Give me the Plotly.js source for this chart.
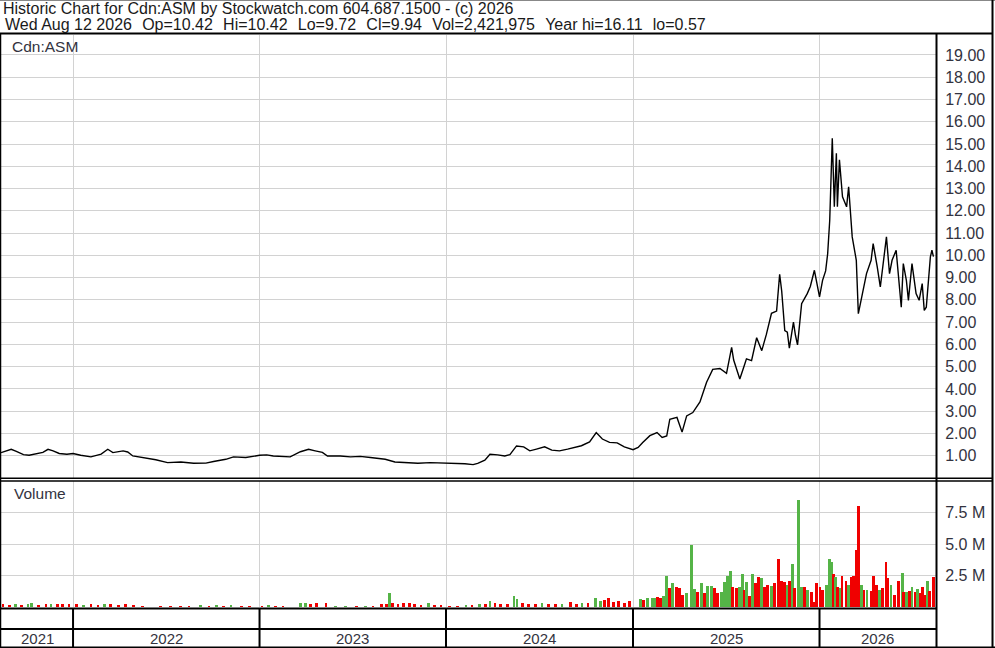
<!DOCTYPE html>
<html><head><meta charset="utf-8">
<script src="https://cdn.plot.ly/plotly-3.0.1.min.js"></script>
<style>html,body{margin:0;padding:0;background:#fff;overflow:hidden}#chart{width:995px;height:648px}</style>
</head><body><div id="chart"></div>
<script>
// ---------- text ----------
const headerLine1 = 'Historic Chart for Cdn:ASM by Stockwatch.com 604.687.1500 - (c) 2026';
const headerFields2 = ['Wed Aug 12 2026', 'Op=10.42', 'Hi=10.42', 'Lo=9.72', 'Cl=9.94', 'Vol=2,421,975', 'Year hi=16.11', 'lo=0.57'];
const symbolLabel = 'Cdn:ASM';
const volumeLabel = 'Volume';
const yearLabels = ['2021','2022','2023','2024','2025','2026'];
const dateRange = ['2021-08-13','2026-08-17'];
const priceTicks = [1,2,3,4,5,6,7,8,9,10,11,12,13,14,15,16,17,18,19];
const volumeTicks = [2500000,5000000,7500000];
const volumeTickText = ['2.5 M','5.0 M','7.5 M'];

// ---------- price ----------
const priceDates = [
'2021-08-13','2021-08-23','2021-09-02','2021-09-12','2021-09-26','2021-10-07','2021-10-21','2021-11-03','2021-11-13','2021-11-23','2021-12-05','2021-12-20',
'2022-01-01','2022-01-16','2022-02-05','2022-02-25','2022-03-10','2022-03-20','2022-04-09','2022-04-18','2022-04-28','2022-05-20','2022-06-12','2022-07-05','2022-07-31','2022-08-25','2022-09-18','2022-10-03','2022-10-27','2022-11-11','2022-12-05',
'2023-01-01','2023-01-15','2023-01-28','2023-02-17','2023-03-02','2023-03-22','2023-04-07','2023-04-20','2023-05-04','2023-05-14','2023-06-08','2023-06-28','2023-07-17','2023-08-06','2023-09-04','2023-09-23','2023-10-13','2023-11-07','2023-12-01','2023-12-20',
'2024-01-01','2024-01-19','2024-02-07','2024-02-23','2024-03-03','2024-03-17','2024-03-27','2024-04-11','2024-04-25','2024-05-05','2024-05-18','2024-06-01','2024-06-13','2024-06-26','2024-07-12','2024-07-26','2024-08-10','2024-08-26','2024-09-08','2024-09-22','2024-10-08','2024-10-21','2024-11-02','2024-11-16','2024-12-01','2024-12-15',
'2025-01-01','2025-01-11','2025-01-20','2025-02-03','2025-02-17','2025-02-27','2025-03-08','2025-03-14','2025-03-28','2025-04-07','2025-04-16','2025-04-28','2025-05-12','2025-05-25','2025-06-06','2025-06-20','2025-07-03','2025-07-13','2025-07-17','2025-07-23','2025-07-29','2025-08-06','2025-08-11','2025-08-21','2025-08-31','2025-09-10','2025-09-19','2025-09-29','2025-10-09','2025-10-15','2025-10-19','2025-10-25','2025-10-30','2025-11-03','2025-11-11','2025-11-15','2025-11-19','2025-11-27','2025-12-08','2025-12-14','2025-12-22',
'2026-01-01','2026-01-07','2026-01-13','2026-01-17','2026-01-21','2026-01-24','2026-01-26','2026-01-30','2026-02-03','2026-02-05','2026-02-09','2026-02-15','2026-02-23','2026-02-27','2026-03-03','2026-03-06','2026-03-14','2026-03-18','2026-03-26','2026-04-03','2026-04-12','2026-04-16','2026-04-24','2026-04-30','2026-05-08','2026-05-12','2026-05-18','2026-05-23','2026-05-31','2026-06-06','2026-06-10','2026-06-14','2026-06-20','2026-06-24','2026-07-01','2026-07-09','2026-07-15','2026-07-21','2026-07-25','2026-07-29','2026-08-02','2026-08-06','2026-08-09','2026-08-12'
];
const priceClose = [
1.14,1.22,1.29,1.20,1.05,1.02,1.10,1.15,1.29,1.22,1.10,1.07,
1.10,1.02,0.95,1.07,1.29,1.14,1.22,1.17,0.99,0.92,0.82,0.69,0.72,0.66,0.67,0.74,0.84,0.95,0.92,
1.02,1.04,0.99,0.96,0.95,1.18,1.29,1.22,1.15,0.99,0.99,0.95,0.97,0.92,0.84,0.72,0.69,0.66,0.69,0.68,
0.69,0.66,0.64,0.60,0.66,0.80,1.07,1.04,0.99,1.05,1.44,1.40,1.22,1.30,1.40,1.25,1.22,1.30,1.37,1.45,1.62,2.04,1.75,1.60,1.58,1.40,
1.27,1.37,1.59,1.90,2.04,1.82,1.89,2.64,2.72,2.06,2.79,2.94,3.42,4.30,4.88,4.92,4.70,5.87,5.30,4.92,4.45,5.00,5.35,5.27,6.30,5.72,6.45,7.40,7.50,9.15,8.40,6.62,6.55,5.83,7.00,6.40,5.98,7.83,8.28,8.60,9.33,
8.13,8.88,9.30,10.08,11.58,13.46,15.26,12.18,14.59,12.18,14.29,12.63,12.18,13.08,11.73,10.83,9.78,7.38,8.28,9.18,9.78,10.53,9.48,8.58,10.08,10.83,9.18,9.78,10.23,8.58,7.67,9.63,8.88,7.98,9.63,8.28,7.98,8.73,7.53,7.67,8.88,9.93,10.23,9.94
];

// ---------- volume (millions) ----------
const volumeDates = [
'2021-08-17','2021-08-29','2021-09-10','2021-09-22','2021-10-05','2021-10-11','2021-10-26','2021-11-09','2021-11-19','2021-12-01','2021-12-12','2021-12-24',
'2022-01-07','2022-01-21','2022-02-05','2022-02-19','2022-03-04','2022-03-16','2022-03-31','2022-04-14','2022-04-29','2022-05-17','2022-06-21','2022-07-11','2022-07-31','2022-08-16','2022-09-08','2022-09-24','2022-10-08','2022-10-22','2022-11-06','2022-11-26','2022-12-12',
'2023-01-06','2023-01-18','2023-02-02','2023-02-16','2023-03-22','2023-04-01','2023-04-11','2023-04-23','2023-05-11','2023-05-30','2023-06-19','2023-07-09','2023-07-28','2023-08-11','2023-08-27','2023-09-06','2023-09-12','2023-09-19','2023-09-29','2023-10-09','2023-10-21','2023-10-31','2023-11-13','2023-11-27','2023-12-09','2023-12-22',
'2024-01-08','2024-01-24','2024-02-09','2024-02-21','2024-03-07','2024-03-19','2024-03-27','2024-04-06','2024-04-16','2024-04-30','2024-05-13','2024-05-19','2024-05-29','2024-06-10','2024-06-24','2024-07-07','2024-07-19','2024-08-02','2024-08-15','2024-08-31','2024-09-12','2024-09-23','2024-10-05','2024-10-19','2024-10-29','2024-11-06','2024-11-14','2024-11-24','2024-12-03','2024-12-15','2024-12-25',
'2025-01-15','2025-01-22','2025-01-30','2025-02-07','2025-02-12','2025-02-18','2025-02-24','2025-03-02','2025-03-08','2025-03-14','2025-03-20','2025-03-27','2025-04-02','2025-04-08','2025-04-16','2025-04-26','2025-05-02','2025-05-07','2025-05-15','2025-05-21','2025-05-27','2025-06-04','2025-06-10','2025-06-15','2025-06-23','2025-06-29','2025-07-05','2025-07-11','2025-07-15','2025-07-23','2025-07-29','2025-08-03','2025-08-07','2025-08-11','2025-08-17','2025-08-23','2025-08-29','2025-09-03','2025-09-09','2025-09-15','2025-09-21','2025-09-29','2025-10-05','2025-10-13','2025-10-18','2025-10-24','2025-10-30','2025-11-03','2025-11-09','2025-11-13','2025-11-21','2025-11-27','2025-12-02','2025-12-08','2025-12-16','2025-12-20','2025-12-26',
'2026-01-02','2026-01-07','2026-01-14','2026-01-20','2026-01-24','2026-01-28','2026-02-01','2026-02-05','2026-02-11','2026-02-14','2026-02-22','2026-02-26','2026-03-04','2026-03-08','2026-03-14','2026-03-18','2026-03-24','2026-03-29','2026-04-04','2026-04-12','2026-04-16','2026-04-22','2026-04-28','2026-05-04','2026-05-11','2026-05-15','2026-05-21','2026-05-27','2026-06-04','2026-06-12','2026-06-15','2026-06-21','2026-06-26','2026-07-01','2026-07-07','2026-07-11','2026-07-17','2026-07-21','2026-07-27','2026-08-01','2026-08-05','2026-08-12'
];
const volumeMillions = [
0.20,0.15,0.20,0.15,0.25,0.30,0.15,0.25,0.20,0.20,0.25,0.20,
0.20,0.15,0.20,0.15,0.25,0.20,0.15,0.20,0.15,0.10,0.10,0.10,0.10,0.10,0.15,0.10,0.15,0.10,0.15,0.10,0.10,
0.10,0.15,0.10,0.10,0.30,0.35,0.25,0.30,0.35,0.10,0.10,0.10,0.10,0.10,0.20,0.20,1.10,0.30,0.25,0.30,0.30,0.20,0.15,0.30,0.15,0.15,
0.10,0.10,0.15,0.15,0.20,0.25,0.45,0.30,0.20,0.25,0.90,0.60,0.30,0.25,0.20,0.30,0.25,0.20,0.25,0.40,0.20,0.30,0.35,0.75,0.50,0.55,0.70,0.40,0.45,0.35,0.45,
0.60,0.55,0.70,0.70,0.75,0.80,0.70,0.90,2.45,1.50,1.90,1.55,1.50,0.95,1.10,4.90,1.40,1.20,1.90,1.10,1.70,1.70,1.50,1.10,1.20,2.00,2.45,2.85,1.60,1.50,1.55,2.60,1.35,2.00,0.85,2.60,1.90,2.40,2.30,1.60,1.75,1.70,1.90,3.80,2.10,2.00,1.75,2.10,3.40,1.50,8.50,1.60,1.55,1.35,1.20,0.40,1.90,
1.60,1.35,1.75,3.80,3.60,2.65,2.40,1.60,1.50,2.45,2.10,1.75,2.35,2.45,4.50,8.05,1.75,1.35,1.35,1.30,2.45,1.75,1.35,1.50,3.60,2.30,1.75,0.95,2.10,2.70,1.20,1.20,1.30,1.60,1.20,1.40,1.10,1.60,0.95,2.05,1.30,2.42
];
const volumeDirection = [
'd','d','u','d','u','u','d','d','u','d','d','d',
'd','u','d','d','u','d','d','d','d','d','d','d','d','d','u','d','u','d','u','d','d',
'd','u','d','d','u','u','d','d','d','u','u','d','u','d','d','d','u','d','d','d','d','d','d','u','d','d',
'd','d','u','d','u','d','u','d','d','d','u','u','d','d','d','u','d','d','u','d','d','u','d','u','u','d','d','d','d','d','d',
'u','d','u','u','u','d','d','u','u','d','u','d','d','d','u','u','u','d','u','d','u','u','d','d','u','u','u','u','d','d','u','u','d','u','d','u','d','d','u','d','d','u','d','d','d','d','u','d','u','d','u','u','d','u','d','d','d',
'd','d','u','u','u','d','u','d','u','d','d','u','d','d','d','d','u','d','u','d','d','d','u','d','d','d','u','d','d','u','d','u','d','u','d','u','d','d','d','u','d','d'
];

// ---------- layout helpers (pixel -> paper) ----------
const W = 995, H = 648;
const fx = p => p / W;
const fy = p => 1 - p / H;
const upColor = '#55b447', downColor = '#f00000';
const gridColor = '#d2d2d2';
const fontFamily = '"Liberation Sans", Arial, sans-serif';
const textColor = '#333340';
const fieldGap = '\u00a0\u00a0\u200a';

const yearStarts = yearLabels.slice(1).map(y => y + '-01-01');

const traces = [
  {
    type: 'scatter', mode: 'lines', x: priceDates, y: priceClose,
    xaxis: 'x', yaxis: 'y',
    line: {color: '#000', width: 1.4}, hoverinfo: 'skip'
  },
  {
    type: 'bar', x: volumeDates, y: volumeMillions.map(v => v * 1e6),
    xaxis: 'x2', yaxis: 'y2',
    width: 5.5 * 86400000,
    marker: {color: volumeDirection.map(d => d === 'u' ? upColor : downColor), line: {width: 0}},
    hoverinfo: 'skip'
  }
];

// year label positions: centre of the visible part of each year
const r0 = Date.parse(dateRange[0]), r1 = Date.parse(dateRange[1]);
const yearAnn = yearLabels.map(y => {
  const s = Math.max(r0, Date.parse(y + '-01-01'));
  const e = Math.min(r1, Date.parse((+y + 1) + '-01-01'));
  const mid = new Date((s + e) / 2).toISOString().replace('T', ' ').slice(0, 19);
  return {text: y, x: mid, xref: 'x', y: fy(638), yref: 'paper', xanchor: 'center', yanchor: 'middle',
          showarrow: false, font: {size: 15, color: textColor, family: fontFamily}};
});

const hline = (y, x0, x1, w, c) => ({type: 'line', xref: 'paper', yref: 'paper', x0: fx(x0), x1: fx(x1), y0: fy(y), y1: fy(y), line: {color: c || '#000', width: w}});
const vline = (x, y0, y1, w, c) => ({type: 'line', xref: 'paper', yref: 'paper', x0: fx(x), x1: fx(x), y0: fy(y0), y1: fy(y1), line: {color: c || '#000', width: w}});

const shapes = [
  hline(0.5, 0, 995, 1, '#888'),
  hline(33.5, 0, 993, 2),
  vline(0.5, 33, 648, 1.5),
  vline(992.5, 0, 648, 2),
  vline(936.5, 33, 648, 2),
  hline(478.3, 0, 993, 1.5),
  hline(481, 0, 993, 1.5),
  hline(608.5, 0, 937, 2),
  hline(629, 0, 937, 2),
  hline(647.3, 0, 995, 1.5)
].concat(yearStarts.map(d => ({type: 'line', xref: 'x', yref: 'paper', x0: d, x1: d, y0: 0, y1: fy(608.5), line: {color: '#000', width: 2}})));

const xBase = {
  type: 'date', range: dateRange, tickvals: yearStarts, showticklabels: false,
  showgrid: true, gridcolor: gridColor, gridwidth: 1, zeroline: false, showline: false, ticks: '',
  domain: [fx(1), fx(936)]
};

const tickFont = {size: 16, color: textColor, family: fontFamily};

const layout = {
  width: W, height: H, margin: {l: 0, r: 0, t: 0, b: 0},
  paper_bgcolor: '#fff', plot_bgcolor: '#fff', showlegend: false, bargap: 0,
  font: {family: fontFamily, size: 14, color: textColor},
  title: {
    text: headerLine1,
    x: fx(3), xref: 'paper', xanchor: 'left',
    y: fy(8.5), yref: 'paper', yanchor: 'middle',
    font: {size: 16, color: '#1a1a1a', family: fontFamily}
  },
  xaxis: Object.assign({}, xBase, {anchor: 'y'}),
  xaxis2: Object.assign({}, xBase, {anchor: 'y2', matches: 'x'}),
  yaxis: {
    domain: [fy(478), fy(34.5)], range: [0, 19.92], side: 'right', anchor: 'x',
    tickvals: priceTicks, tickformat: '.2f', showgrid: true, gridcolor: gridColor, gridwidth: 1,
    zeroline: false, showline: false, ticks: 'outside', ticklen: 5, tickcolor: 'rgba(0,0,0,0)',
    tickfont: tickFont
  },
  yaxis2: {
    domain: [fy(607), fy(481)], range: [0, 10000000], side: 'right', anchor: 'x2',
    tickvals: volumeTicks, ticktext: volumeTickText, showgrid: true, gridcolor: gridColor, gridwidth: 1,
    zeroline: false, showline: false, ticks: 'outside', ticklen: 5, tickcolor: 'rgba(0,0,0,0)',
    tickfont: tickFont
  },
  shapes: shapes,
  annotations: [
    {text: headerFields2.join(fieldGap), x: fx(3), y: fy(25), xref: 'paper', yref: 'paper', xanchor: 'left', yanchor: 'middle', showarrow: false, font: {size: 16, color: '#1a1a1a'}},
    {text: symbolLabel, x: fx(10), y: fy(47), xref: 'paper', yref: 'paper', xanchor: 'left', yanchor: 'middle', showarrow: false, font: {size: 15.5, color: textColor}},
    {text: volumeLabel, x: fx(12), y: fy(493), xref: 'paper', yref: 'paper', xanchor: 'left', yanchor: 'middle', showarrow: false, font: {size: 15.5, color: textColor}}
  ].concat(yearAnn)
};

Plotly.newPlot('chart', traces, layout, {staticPlot: true, displayModeBar: false});
</script>
</body></html>
